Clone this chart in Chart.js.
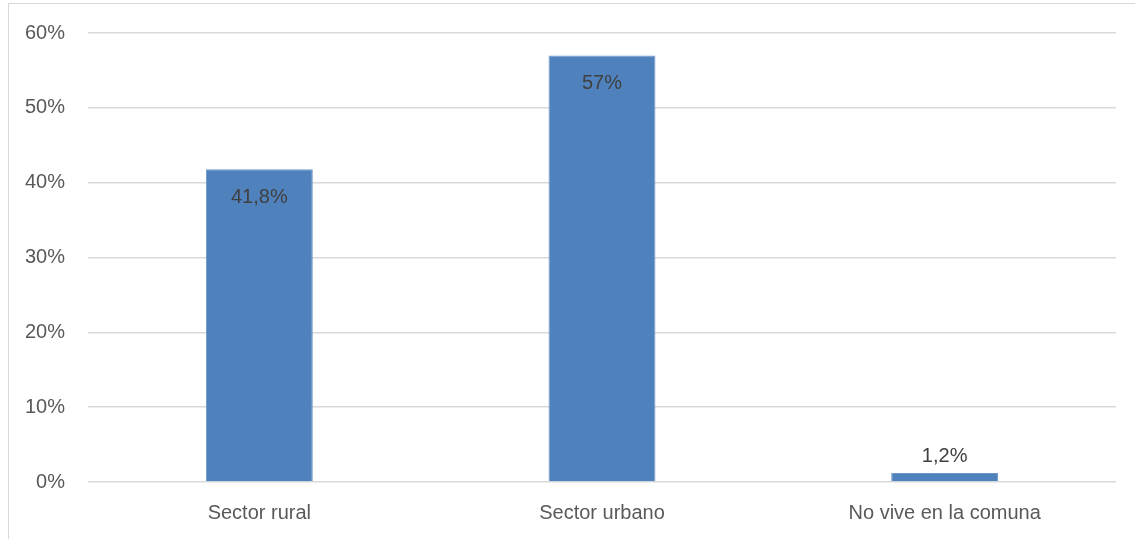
<!DOCTYPE html>
<html lang="es">
<head>
    <meta charset="UTF-8">
    <title>Residencia</title>
    <script src="https://cdn.jsdelivr.net/npm/chart.js"></script>
</head>
<style>
    html, body{
        margin: 0;
        padding: 0;
        background: #ffffff;
        overflow: hidden;
    }
    #chartbox{
        position: absolute;
        left: 8px;
        top: 3px;
        width: 1126px;
        height: 535px;
        border-left: 1px solid #d9d9d9;
        border-top: 1px solid #d9d9d9;
    }
</style>
<body>
    <div id="chartbox">
        <canvas id="barCanvas"></canvas>
    </div>
    <script>
        var categories = ['Sector rural', 'Sector urbano', 'No vive en la comuna'];
        var values = [41.8, 57, 1.2];
        var valueLabels = ['41,8%', '57%', '1,2%'];
        var yTicks = [0, 10, 20, 30, 40, 50, 60];

        // draws the value labels, inside the bar top or above a short bar
        var barLabels = {
            id: 'barLabels',
            afterDatasetsDraw: function(chart) {
                var ctx = chart.ctx;
                var meta = chart.getDatasetMeta(0);
                ctx.save();
                ctx.font = '20px "Liberation Sans", Arial, sans-serif';
                ctx.fillStyle = '#404040';
                ctx.textAlign = 'center';
                ctx.textBaseline = 'middle';
                meta.data.forEach(function(bar, i) {
                    var h = bar.base - bar.y;
                    var y = h > 40 ? bar.y + 28 : bar.y - 17;
                    ctx.fillText(valueLabels[i], bar.x, y);
                });
                ctx.restore();
            }
        };

        var ctx = document.getElementById('barCanvas').getContext('2d');
        new Chart(ctx, {
            type: 'bar',
            data: {
                labels: categories,
                datasets: [{
                    data: values,
                    backgroundColor: '#4f81bd',
                    borderColor: '#6d95c9',
                    borderWidth: 1,
                    barPercentage: 0.312,
                    categoryPercentage: 1
                }]
            },
            options: {
                responsive: true,
                maintainAspectRatio: false,
                animation: false,
                layout: {
                    padding: { left: 0, right: 19, top: 29, bottom: 0 }
                },
                plugins: {
                    legend: { display: false },
                    tooltip: { enabled: false }
                },
                scales: {
                    x: {
                        grid: { display: false, drawTicks: false },
                        border: { display: false },
                        ticks: {
                            padding: 19,
                            color: '#595959',
                            font: { family: '"Liberation Sans", Arial, sans-serif', size: 20 }
                        },
                        afterFit: function(scale) { scale.height = 57; }
                    },
                    y: {
                        min: 0,
                        max: 60,
                        afterBuildTicks: function(scale) {
                            scale.ticks = yTicks.map(function(v) { return { value: v }; });
                        },
                        grid: { color: '#d9d9d9', lineWidth: 1.5, drawTicks: false },
                        border: { display: false },
                        ticks: {
                            padding: 23,
                            color: '#595959',
                            font: { family: '"Liberation Sans", Arial, sans-serif', size: 20 },
                            callback: function(v) { return v + '%'; }
                        },
                        afterFit: function(scale) {
                            scale.width = 79;
                            scale.paddingTop = 0;
                            scale.paddingBottom = 0;
                        }
                    }
                }
            },
            plugins: [barLabels]
        });
    </script>
</body>
</html>
